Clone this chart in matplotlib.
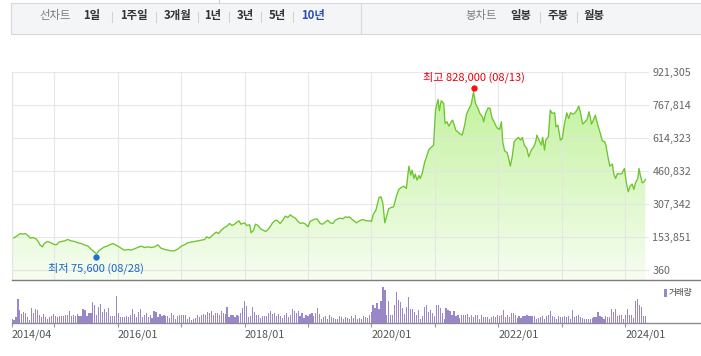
import numpy as np
import matplotlib
matplotlib.use('Agg')
import matplotlib.pyplot as plt
from matplotlib.patches import Rectangle
from matplotlib.lines import Line2D
from matplotlib.transforms import offset_copy

plt.rcParams['font.family'] = ['Noto Sans CJK KR', 'DejaVu Sans']

# 종가 (decimal year, 천원)
price_t = [
    2014.33, 2014.37, 2014.42, 2014.46, 2014.50, 2014.54, 2014.58, 2014.62, 2014.66, 2014.71,
    2014.75, 2014.77, 2014.81, 2014.84, 2014.89, 2014.95, 2014.98, 2015.03, 2015.07, 2015.11,
    2015.16, 2015.21, 2015.26, 2015.32, 2015.37, 2015.42, 2015.47, 2015.53, 2015.58, 2015.62,
    2015.66, 2015.70, 2015.74, 2015.79, 2015.83, 2015.87, 2015.92, 2015.96, 2016.00, 2016.05,
    2016.10, 2016.16, 2016.21, 2016.26, 2016.31, 2016.37, 2016.42, 2016.47, 2016.52, 2016.58,
    2016.63, 2016.68, 2016.74, 2016.79, 2016.84, 2016.89, 2016.95, 2017.00, 2017.05, 2017.10,
    2017.16, 2017.21, 2017.26, 2017.31, 2017.37, 2017.40, 2017.44, 2017.50, 2017.55, 2017.59,
    2017.63, 2017.68, 2017.72, 2017.76, 2017.80, 2017.84, 2017.88, 2017.91, 2017.94, 2018.00,
    2018.03, 2018.08, 2018.10, 2018.14, 2018.17, 2018.21, 2018.25, 2018.29, 2018.33, 2018.37,
    2018.40, 2018.44, 2018.49, 2018.52, 2018.56, 2018.60, 2018.64, 2018.68, 2018.72, 2018.76,
    2018.80, 2018.84, 2018.88, 2018.92, 2018.96, 2019.00, 2019.03, 2019.07, 2019.12, 2019.15,
    2019.19, 2019.23, 2019.27, 2019.31, 2019.35, 2019.39, 2019.43, 2019.47, 2019.51, 2019.55,
    2019.59, 2019.63, 2019.65, 2019.71, 2019.76, 2019.81, 2019.86, 2019.92, 2019.97, 2020.00,
    2020.03, 2020.07, 2020.12, 2020.15, 2020.18, 2020.21, 2020.23, 2020.27, 2020.31, 2020.35,
    2020.39, 2020.43, 2020.47, 2020.51, 2020.55, 2020.59, 2020.62, 2020.64, 2020.67, 2020.69,
    2020.72, 2020.75, 2020.77, 2020.80, 2020.84, 2020.87, 2020.90, 2020.94, 2020.98, 2021.01,
    2021.05, 2021.07, 2021.10, 2021.14, 2021.16, 2021.19, 2021.22, 2021.26, 2021.28, 2021.33,
    2021.36, 2021.40, 2021.43, 2021.47, 2021.50, 2021.54, 2021.57, 2021.61, 2021.64, 2021.68,
    2021.71, 2021.75, 2021.77, 2021.80, 2021.84, 2021.87, 2021.90, 2021.94, 2021.97, 2021.99,
    2022.02, 2022.05, 2022.07, 2022.10, 2022.14, 2022.17, 2022.19, 2022.22, 2022.25, 2022.28,
    2022.32, 2022.35, 2022.38, 2022.41, 2022.45, 2022.48, 2022.52, 2022.56, 2022.59, 2022.61,
    2022.64, 2022.68, 2022.70, 2022.73, 2022.75, 2022.79, 2022.82, 2022.85, 2022.89, 2022.91,
    2022.94, 2022.98, 2023.01, 2023.04, 2023.08, 2023.11, 2023.14, 2023.18, 2023.21, 2023.24,
    2023.27, 2023.30, 2023.33, 2023.37, 2023.40, 2023.43, 2023.45, 2023.47, 2023.50, 2023.53,
    2023.57, 2023.61, 2023.64, 2023.68, 2023.70, 2023.73, 2023.76, 2023.80, 2023.82, 2023.85,
    2023.88, 2023.91, 2023.95, 2023.99, 2024.02, 2024.05, 2024.08, 2024.11, 2024.14, 2024.16,
    2024.20, 2024.22, 2024.24, 2024.27, 2024.30, 2024.32,
]
price_k = [
    148.5, 151.6, 161, 170, 167, 170, 161, 148.5, 151.6, 145.4,
    130, 117.5, 108.2, 123.7, 133, 126.8, 120.6, 117.5, 130, 133,
    136, 142.3, 136, 133, 126.8, 123.7, 117.5, 111.3, 96, 86.6,
    75.6, 89.6, 99, 108.2, 111.3, 117.5, 123.7, 117.5, 111.3, 102,
    92.8, 96, 92.8, 99, 105, 111.3, 105, 108.2, 105, 108.2,
    117.5, 102, 96, 92.8, 89.6, 89.6, 99, 111.3, 117.5, 126.8,
    130, 133, 136, 139.2, 142.3, 154.7, 148.5, 164, 176.4, 170,
    185.6, 198, 204.2, 216.6, 207.3, 213.5, 222.8, 229, 213.5, 219.7,
    207.3, 210.4, 173.3, 185.6, 213.5, 207.3, 192, 185.6, 179.5, 189,
    201, 219.7, 232, 229, 216.6, 232, 250.7, 244.5, 256.8, 247.6,
    241.4, 226, 216.6, 219.7, 213.5, 201, 226, 232, 238.3, 235,
    216.6, 213.5, 222.8, 232, 219.7, 216.6, 232, 238.3, 241.4, 238.3,
    247.6, 244.5, 247.6, 232, 219.7, 229, 235, 229, 229, 226,
    260, 278.6, 337.4, 340.5, 309.6, 219.7, 240, 284.8, 291, 294,
    340.5, 374.6, 384, 390, 379.2, 482.9, 441, 464.4, 425.7, 445.8,
    418, 439.6, 425.7, 449, 503, 526.3, 557.2, 569.6, 580.5, 743,
    792.5, 740, 786.4, 774, 681, 689, 668.7, 689, 696.6, 650,
    642.4, 631.6, 627, 673.4, 724.4, 750.7, 766.2, 828, 774, 750.7,
    727.5, 712, 689, 727.5, 753.8, 750.7, 709, 684, 665.6, 658,
    653.2, 689, 596, 554, 545, 510.8, 483, 526.3, 596, 606.8,
    616, 603.7, 616, 580.5, 565, 526.3, 557.2, 572.7, 596, 627,
    603.7, 580.5, 616, 557.2, 603.7, 619.2, 743, 727.5, 730.6, 665.6,
    673.4, 603.7, 611.4, 673.4, 730.6, 704.3, 730.6, 724.4, 730.6, 743,
    761.6, 727.5, 678, 689, 699.7, 735.3, 712, 678, 696.6, 719.8,
    673.4, 634.6, 600.6, 596, 575.8, 526.3, 483, 492.2, 448.9, 425.7,
    448.9, 445.8, 448.9, 472, 405.5, 363.8, 390, 399.3, 374.6, 402.4,
    425.7, 472, 441, 405.5, 410, 421,
]

# 거래량 (relative)
volume = [
    12, 10, 18, 73, 40, 27, 34, 30, 20, 10, 46, 30, 43, 40, 26, 18, 28, 18, 14, 20,
    23, 28, 21, 20, 23, 23, 22, 25, 24, 38, 21, 25, 23, 28, 21, 22, 43, 40, 23, 30,
    30, 63, 56, 26, 48, 58, 33, 43, 35, 46, 22, 22, 23, 82, 30, 18, 18, 20, 22, 20,
    26, 43, 28, 18, 33, 43, 18, 26, 30, 18, 25, 16, 36, 34, 20, 28, 23, 24, 21, 21,
    16, 30, 25, 13, 22, 25, 26, 26, 24, 13, 20, 10, 13, 16, 26, 18, 25, 28, 25, 33,
    30, 36, 26, 30,
    30, 26, 36, 32, 28, 48, 20, 25, 26, 18, 24, 22, 30, 46, 66, 52, 18, 21, 48, 33,
    25, 25, 15, 21, 21, 23, 30, 36, 28, 31, 21, 28, 22, 16, 26, 30, 18, 26, 43, 38,
    32, 36, 21, 30, 16, 26, 22, 28, 30, 22, 30, 46, 28, 14, 20, 22, 14, 26, 20, 15,
    14, 12, 23, 18, 12, 18, 16, 12, 22, 15, 25, 14, 16, 14, 22, 18, 15, 24, 34, 55,
    46, 60, 44, 68, 108, 100, 25, 66, 25, 25, 56, 93, 70, 63, 46, 28, 50, 78, 43, 43,
    33, 26, 40, 14, 23, 50, 55, 33, 40, 30, 23, 56,
    56, 46, 30, 14, 46, 40, 38, 26, 36, 23, 26, 16, 26, 26, 26, 28, 20, 25, 20, 24,
    24, 12, 26, 20, 20, 18, 12, 18, 22, 20, 26, 22, 26, 40, 20, 24, 20, 30, 32, 24,
    16, 22, 16, 21, 23, 24, 22, 22, 21, 22, 12, 17, 20, 22, 14, 23, 26, 36, 23, 18,
    14, 22, 19, 18, 22, 18, 23, 14, 40, 20, 22, 24, 20, 15, 12, 14, 14, 14, 16, 18,
    18, 34, 22, 18, 14, 22, 18, 20, 42, 34, 42, 22, 26, 26, 14, 26, 42, 26, 24, 16,
    66, 73, 56, 50, 22, 22,
]

y_ticks = [360, 153851, 307342, 460832, 614323, 767814, 921305]
x_major = [2016, 2018, 2020, 2022, 2024]
x_minor = [2015, 2017, 2019, 2021, 2023]
x_labels = ['2014/04', '2016/01', '2018/01', '2020/01', '2022/01', '2024/01']
high_date = '08/13'
low_date = '08/28'

nav_left = ['1일', '1주일', '3개월', '1년', '3년', '5년', '10년']
nav_right = ['일봉', '주봉', '월봉']

W, H = 701, 356
PX_YEAR = 63.4


def box(x0, y0, x1, y1):
    return [x0 / W, 1 - y1 / H, (x1 - x0) / W, (y1 - y0) / H]


fig = plt.figure(figsize=(W / 100, H / 100), dpi=100)

t = np.array(price_t)
price = np.array(price_k) * 1000
t0 = t[0]

# ---------- 가격 차트 ----------
ax = fig.add_axes(box(12, 71.7, 649, 280.3))
step = y_ticks[1] - y_ticks[0]
ybot = y_ticks[0] - 0.31 * step
ytop = y_ticks[-1]
xr = t0 + (649 - 12) / PX_YEAR

grad = np.linspace(0, 1, 256)[:, None, None]
c_top = np.array([0.74, 0.945, 0.58])
c_bot = np.array([0.968, 0.994, 0.948])
img = c_top + (c_bot - c_top) * grad
im = ax.imshow(img, extent=[t0, xr, ybot, ytop], aspect='auto', origin='upper', zorder=0.2)
poly = ax.fill_between(t, price, ybot, facecolor='none', edgecolor='none')
im.set_clip_path(poly.get_paths()[0], transform=ax.transData)
ax.plot(t, price, color='#6cc62c', lw=0.95, zorder=2)

ax.set_xlim(t0, xr)
ax.set_ylim(ybot, ytop)
ax.set_xticks([t0] + x_major + x_minor)
ax.set_yticks(y_ticks)
ax.set_yticklabels([f'{v:,}' for v in y_ticks])
ax.yaxis.tick_right()
ax.tick_params(axis='x', length=0, labelbottom=False)
ax.tick_params(axis='y', length=0, pad=2.5, labelsize=7.7, labelcolor='#666666')
ax.grid(True, color='#e4e4e4', lw=0.8, alpha=0.85)
for s in ['top', 'right', 'bottom']:
    ax.spines[s].set_visible(False)
ax.spines['left'].set_color('#e4e4e4')
ax.spines['left'].set_linewidth(0.8)

# 최고 / 최저
i_hi = int(np.argmax(price))
i_lo = int(np.argmin(price))
hi_val = int(round(price[i_hi]))
lo_val = int(round(price[i_lo]))
ax.plot(t[i_hi], price[i_hi], 'o', color='#ff1010', ms=4.6, zorder=4, mew=0,
        transform=offset_copy(ax.transData, fig=fig, x=0, y=2.5, units='points'))
ax.plot(t[i_lo], price[i_lo], 'o', color='#1f6fd6', ms=4.6, zorder=4, mew=0,
        transform=offset_copy(ax.transData, fig=fig, x=0, y=-2.5, units='points'))
ax.annotate(f'최고 {hi_val:,} ({high_date})', (t[i_hi], price[i_hi]), xytext=(0, 10.4),
            textcoords='offset points', ha='center', va='center', fontsize=8, color='#e8000b')
ax.annotate(f'최저 {lo_val:,} ({low_date})', (t[i_lo], price[i_lo]), xytext=(0, -10.4),
            textcoords='offset points', ha='center', va='center', fontsize=8, color='#1a64c8')

# ---------- 거래량 ----------
ax2 = fig.add_axes(box(12, 280.3, 701, 323.3))
vt = np.linspace(t0, t[-1], len(volume))
ax2.bar(vt, volume, width=(vt[1] - vt[0]) * 0.6, color='#9a87c8', lw=0)
ax2.set_xlim(t0, t0 + (701 - 12) / PX_YEAR)
ax2.set_ylim(0, 129)
ax2.set_yticks([])
ax2.set_xticks([t0] + x_major)
ax2.set_xticklabels(x_labels)
ax2.set_xticks(x_minor, minor=True)
for lbl in ax2.get_xticklabels():
    lbl.set_ha('left')
ax2.tick_params(axis='x', which='both', direction='out', length=3, width=0.8, color='#999999',
                labelsize=7.8, labelcolor='#555555', pad=1.5)
ax2.spines['left'].set_visible(False)
ax2.spines['right'].set_visible(False)
ax2.spines['top'].set_color('#7c7c7c')
ax2.spines['top'].set_linewidth(1.0)
ax2.spines['bottom'].set_color('#8c8c8c')
ax2.spines['bottom'].set_linewidth(1.0)

fig.add_artist(Rectangle((664 / W, 1 - 296.7 / H), 3 / W, 8 / H, transform=fig.transFigure,
                         facecolor='#9a87c8', edgecolor='none'))
fig.text(669 / W, 1 - 292.7 / H, '거래량', fontsize=6.2, color='#444444', va='center', ha='left')

# ---------- 상단 메뉴 ----------
fig.add_artist(Rectangle((11 / W, 1 - 34 / H), (705 - 11) / W, (34 - 3.3) / H,
                         transform=fig.transFigure, facecolor='#f4f5f7',
                         edgecolor='#d5d8dd', lw=0.8))
fig.add_artist(Line2D([361 / W, 361 / W], [1 - 3.3 / H, 1 - 34 / H],
                      transform=fig.transFigure, color='#d5d8dd', lw=0.8))
fig.add_artist(Line2D([219 / W, 219 / W], [1, 1 - 3.3 / H],
                      transform=fig.transFigure, color='#cfcfcf', lw=0.8))

ny = 1 - 16 / H
fig.text(55.5 / W, ny, '선차트', fontsize=8.2, color='#7d7d7d', ha='center', va='center')
fig.text(481 / W, ny, '봉차트', fontsize=8.2, color='#7d7d7d', ha='center', va='center')
left_x = [92, 133.7, 178, 213, 245, 277, 313]
right_x = [521, 558, 594]
for lab, x in zip(nav_left, left_x):
    col = '#2f4fae' if lab == '10년' else '#333333'
    fig.text(x / W, ny, lab, fontsize=8.2, fontweight='bold', color=col, ha='center', va='center')
for lab, x in zip(nav_right, right_x):
    fig.text(x / W, ny, lab, fontsize=8.2, fontweight='bold', color='#333333', ha='center', va='center')
for x in [111.7, 155.6, 198, 229, 260.6, 292.8, 540, 576.7]:
    fig.add_artist(Line2D([x / W, x / W], [1 - 11.5 / H, 1 - 21.5 / H],
                          transform=fig.transFigure, color='#d2d2d2', lw=0.8))

fig.savefig('out.png', dpi=100)
